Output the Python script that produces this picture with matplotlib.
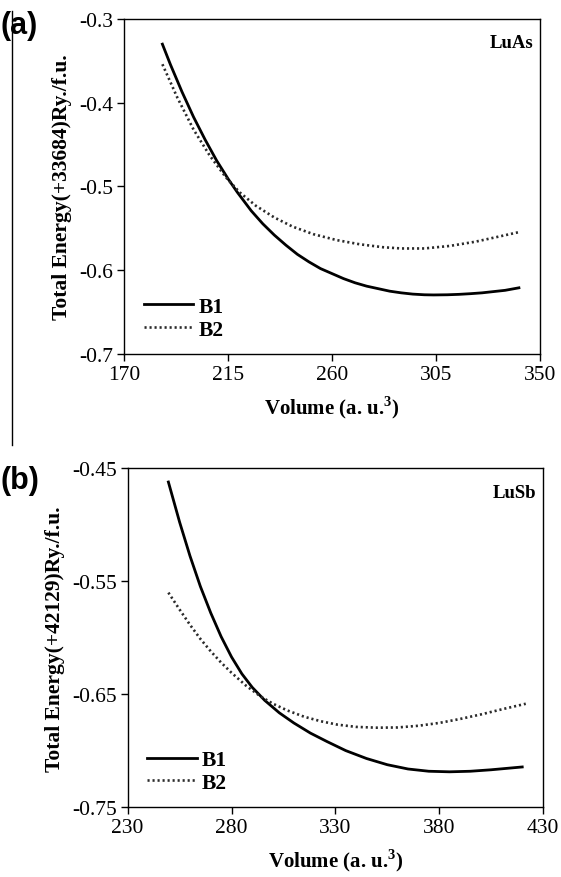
import matplotlib.pyplot as plt
from matplotlib.lines import Line2D

# panel (a) LuAs
vol_a1 = [186.5, 190, 195, 200, 205, 210, 215, 219, 225, 230, 235, 240, 245, 250, 255, 260,
          265, 270, 275, 280, 285, 290, 295, 300, 304, 310, 315, 320, 325, 330, 335, 341]
b1_a = [-0.330, -0.3545, -0.387, -0.417, -0.444, -0.469, -0.491, -0.507, -0.529, -0.5445,
        -0.558, -0.570, -0.581, -0.590, -0.598, -0.604, -0.610, -0.615, -0.619, -0.622,
        -0.625, -0.627, -0.6285, -0.6293, -0.6295, -0.6293, -0.6288, -0.628, -0.627,
        -0.6255, -0.624, -0.621]
vol_a2 = [186.5, 193, 200, 207, 214, 220, 227, 235, 243, 252, 262, 272, 282, 290, 300, 311,
          322, 332, 341]
b2_a = [-0.354, -0.394, -0.432, -0.463, -0.489, -0.507, -0.523, -0.537, -0.548, -0.557,
        -0.564, -0.569, -0.5725, -0.574, -0.574, -0.571, -0.566, -0.560, -0.5545]

# panel (b) LuSb
vol_b1 = [249.6, 255, 260, 265, 270, 275, 280, 285, 290, 296, 303, 310, 318, 326, 335, 345,
          355, 365, 375, 385, 395, 405, 420]
b1_b = [-0.462, -0.4975, -0.5275, -0.5545, -0.578, -0.599, -0.617, -0.632, -0.644, -0.6555,
        -0.6665, -0.6755, -0.6845, -0.692, -0.700, -0.707, -0.7125, -0.7163, -0.7183,
        -0.7188, -0.7183, -0.717, -0.7145]
vol_b2 = [249.6, 255, 260, 265, 270, 275, 280, 287, 294, 300, 307, 315, 323, 331, 340, 350,
          360, 370, 380, 390, 400, 410, 421.7]
b2_b = [-0.560, -0.575, -0.5885, -0.601, -0.612, -0.622, -0.631, -0.6425, -0.652, -0.6585,
        -0.6645, -0.670, -0.674, -0.677, -0.679, -0.6797, -0.6795, -0.678, -0.6755, -0.672,
        -0.668, -0.6635, -0.6585]

plt.rcParams['font.family'] = ['Liberation Serif', 'DejaVu Serif']
plt.rcParams['mathtext.fontset'] = 'custom'
plt.rcParams['mathtext.bf'] = 'Liberation Serif:bold'
plt.rcParams['mathtext.rm'] = 'Liberation Serif'

fig = plt.figure(figsize=(5.61, 8.78), dpi=100)
ax1 = fig.add_axes([0.2216, 0.5957, 0.7404, 0.3815])
ax2 = fig.add_axes([0.2276, 0.0797, 0.7403, 0.3856])

panels = [
    (ax1, vol_a1, b1_a, vol_a2, b2_a, (170, 350), [170, 215, 260, 305, 350], (-0.7, -0.3),
     [-0.7, -0.6, -0.5, -0.4, -0.3], 'Total Energy(+33684)Ry./f.u.', 'LuAs', '(a)', 0.970),
    (ax2, vol_b1, b1_b, vol_b2, b2_b, (230, 430), [230, 280, 330, 380, 430], (-0.75, -0.45),
     [-0.75, -0.65, -0.55, -0.45], 'Total Energy(+42129)Ry./f.u.', 'LuSb', '(b)', 0.4516),
]

for ax, v1, b1, v2, b2, xl, xt, yl, yt, ylab, name, tag, tagy in panels:
    ax.plot(v1, b1, color='black', lw=2.0, label='B1')
    ax.plot(v2, b2, color='#2a2a2a', lw=1.9, linestyle=(0, (0.8, 1.1)), label='B2')
    ax.set_xlim(*xl)
    ax.set_ylim(*yl)
    ax.set_xticks(xt)
    ax.set_yticks(yt)
    ax.set_yticklabels([f'{t:g}' for t in yt])
    ax.tick_params(direction='out', length=5, width=1, labelsize=15.5, pad=3)
    for s in ax.spines.values():
        s.set_linewidth(1.0)
    ax.set_xlabel(r'Volume (a. u.$^\mathbf{3}$)', fontsize=15, fontweight='bold', labelpad=7)
    ax.set_ylabel(ylab, fontsize=15.5, fontweight='bold', labelpad=5)
    ax.text(0.985, 0.955, name, transform=ax.transAxes, ha='right', va='top',
            fontsize=13.5, fontweight='bold')
    ax.legend(loc='lower left', bbox_to_anchor=(0.0, -0.015), frameon=False,
              handlelength=2.3, handletextpad=0.25, labelspacing=0.12,
              prop={'size': 15.5, 'weight': 'bold'})
    fig.text(0.0, tagy, tag, fontsize=22, fontweight='bold', family='Liberation Sans',
             ha='left', va='center')

fig.add_artist(Line2D([12.3 / 561, 12.3 / 561], [1 - 12 / 878, 1 - 446 / 878],
                      transform=fig.transFigure, color='black', lw=1))

fig.savefig('out.png', dpi=100)
